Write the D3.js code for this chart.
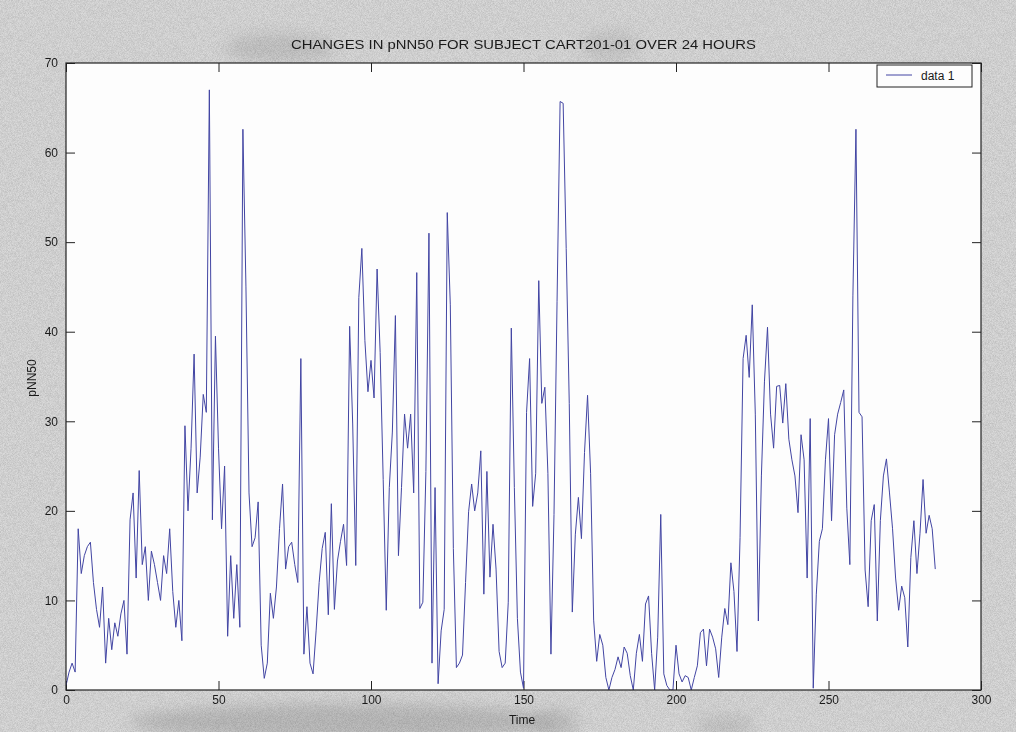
<!DOCTYPE html>
<html>
<head>
<meta charset="utf-8">
<script src="https://cdn.jsdelivr.net/npm/d3@7"></script>
<style>
  html, body { margin: 0; padding: 0; background: #d5d5d5; }
  svg { display: block; }
  text { font-family: "Liberation Sans Narrow", "Liberation Sans", Arial, sans-serif; fill: #1a1a1a; }
</style>
</head>
<body>
<div id="chart"></div>
<script>
// pNN50 samples, one per time step (0..285)
const pnn50 = [
  0.5, 2, 3, 2, 18, 13, 15, 16, 16.5, 12,
  9, 7, 11.5, 3, 8, 4.5, 7.5, 6, 8.5, 10,
  4, 19, 22, 12.5, 24.5, 14, 16, 10, 15.5, 14,
  12, 10, 15, 13, 18, 11, 7, 10, 5.5, 29.5,
  20, 27, 37.5, 22, 26, 33, 31, 67, 19, 39.5,
  27, 18, 25, 6, 15, 8, 14, 7, 62.6, 45,
  22, 16, 17, 21, 5, 1.3, 3, 10.8, 8, 11.5,
  18, 23, 13.5, 16, 16.5, 14, 12, 37, 4, 9.3,
  3, 1.8, 6.6, 12, 15.8, 17.6, 8.4, 20.8, 9, 14.4,
  16.6, 18.5, 13.9, 40.6, 29.7, 13.9, 43.8, 49.3, 39, 33.3,
  36.8, 32.6, 47, 37.7, 23.5, 8.9, 22.6, 28.8, 41.8, 15,
  22.6, 30.8, 27, 30.8, 22, 46.6, 9.1, 9.8, 24.4, 51,
  3, 22.6, 0.7, 6.6, 9, 53.3, 43, 15.8, 2.5, 3,
  3.9, 12, 19.9, 23, 20, 22, 26.7, 10.7, 24.4, 12.6,
  18.5, 13.5, 4.3, 2.5, 3, 9.8, 40.4, 22.6, 8, 2,
  0.2, 31, 37, 20.5, 24.2, 45.7, 32, 33.8, 24.2, 4,
  19.6, 43.4, 65.7, 65.5, 49.3, 32, 8.7, 17.4, 21.5, 16.9,
  26.5, 32.9, 24.2, 7.8, 3.2, 6.2, 5, 1.4, 0, 1.4,
  2.3, 3.7, 2.5, 4.8, 4.1, 1.6, 0, 4.1, 6.2, 3.2,
  9.6, 10.5, 4.1, 0, 5.9, 19.6, 1.8, 0.5, 0, 0,
  5, 1.8, 0.9, 1.6, 1.4, 0, 1.4, 2.7, 6.4, 6.8,
  2.7, 6.8, 5.9, 4.6, 1.4, 5.9, 9.1, 7.3, 14.2, 11,
  4.3, 17, 37, 39.6, 34.9, 43, 30.8, 7.7, 23.9, 34.4,
  40.5, 30.8, 27, 33.9, 34, 29.8, 34.2, 28, 25.7, 23.9,
  19.8, 28.5, 25.7, 12.5, 30.3, 0.2, 10.7, 16.6, 18, 25.7,
  30.3, 18.9, 28.5, 30.8, 32.1, 33.5, 20.3, 14, 44, 62.6,
  31, 30.5, 13.4, 9.3, 18.9, 20.7, 7.7, 18.9, 23.9, 25.8,
  22, 18, 12.5, 8.9, 11.6, 10.3, 4.8, 14.8, 18.9, 13,
  17.5, 23.5, 17.5, 19.5, 18, 13.5
];

const xTicks = [0, 50, 100, 150, 200, 250, 300];
const yTicks = [0, 10, 20, 30, 40, 50, 60, 70];
const titleText = "CHANGES IN pNN50 FOR SUBJECT CART201-01 OVER 24 HOURS";
const xLabel = "Time";
const yLabel = "pNN50";
const seriesName = "data 1";

const width = 1016;
const height = 732;
const plot = { left: 66, right: 981, top: 63, bottom: 690 };
const lineColor = "#4245a3";

const svg = d3.select("#chart").append("svg")
    .attr("width", width)
    .attr("height", height);

// scanned paper look
const defs = svg.append("defs");
const grain = defs.append("filter").attr("id", "grain")
    .attr("x", 0).attr("y", 0).attr("width", "100%").attr("height", "100%");
grain.append("feTurbulence")
    .attr("type", "fractalNoise")
    .attr("baseFrequency", 1.4)
    .attr("numOctaves", 1)
    .attr("seed", 4);
grain.append("feColorMatrix")
    .attr("type", "matrix")
    .attr("values", "0 0 0 0 0  0 0 0 0 0  0 0 0 0 0  0 0 0 -1.6 1.1");
defs.append("filter").attr("id", "blur")
    .append("feGaussianBlur").attr("stdDeviation", 7);
defs.append("clipPath").attr("id", "plot-clip")
  .append("rect")
    .attr("x", plot.left)
    .attr("y", plot.top - 1)
    .attr("width", plot.right - plot.left)
    .attr("height", plot.bottom - plot.top + 1);

svg.append("rect")
    .attr("width", width)
    .attr("height", height)
    .attr("fill", "#d9d9d9");

const smudges = [
    { cx: 345, cy: 722, rx: 215, ry: 18, o: 0.5 },
    { cx: 555, cy: 724, rx: 25, ry: 16, o: 0.35 },
    { cx: 725, cy: 726, rx: 30, ry: 12, o: 0.3 },
    { cx: 280, cy: 48, rx: 55, ry: 14, o: 0.35 },
    { cx: 610, cy: 46, rx: 30, ry: 16, o: 0.25 }
];
svg.append("g")
    .attr("filter", "url(#blur)")
  .selectAll("ellipse")
  .data(smudges)
  .join("ellipse")
    .attr("cx", d => d.cx)
    .attr("cy", d => d.cy)
    .attr("rx", d => d.rx)
    .attr("ry", d => d.ry)
    .attr("fill", "#a0a0a0")
    .attr("opacity", d => d.o);

svg.append("rect")
    .attr("width", width)
    .attr("height", height)
    .attr("filter", "url(#grain)")
    .attr("opacity", 0.16);

// axes area
svg.append("rect")
    .attr("x", plot.left)
    .attr("y", plot.top)
    .attr("width", plot.right - plot.left)
    .attr("height", plot.bottom - plot.top)
    .attr("fill", "#fdfdfd");

const x = d3.scaleLinear().domain([0, 300]).range([plot.left, plot.right]);
const y = d3.scaleLinear().domain([0, 70]).range([plot.bottom, plot.top]);

function styleAxis(g) {
    g.select(".domain").remove();
    g.selectAll(".tick line").attr("stroke", "#222").attr("stroke-width", 1);
    g.selectAll(".tick text")
        .attr("font-size", 12)
        .style("font-family", "\"Liberation Sans Narrow\", \"Liberation Sans\", Arial, sans-serif")
        .attr("fill", "#111");
}

svg.append("g")
    .attr("transform", `translate(0,${plot.bottom})`)
    .call(d3.axisBottom(x).tickValues(xTicks).tickSize(-9).tickPadding(5))
    .call(styleAxis);

svg.append("g")
    .attr("transform", `translate(0,${plot.top})`)
    .call(d3.axisTop(x).tickValues(xTicks).tickSize(-9).tickFormat(""))
    .call(styleAxis);

svg.append("g")
    .attr("transform", `translate(${plot.left},0)`)
    .call(d3.axisLeft(y).tickValues(yTicks).tickSize(-9).tickPadding(8))
    .call(styleAxis);

svg.append("g")
    .attr("transform", `translate(${plot.right},0)`)
    .call(d3.axisRight(y).tickValues(yTicks).tickSize(-9).tickFormat(""))
    .call(styleAxis);

const line = d3.line()
    .x((d, i) => x(i))
    .y(d => y(d));

svg.append("path")
    .datum(pnn50)
    .attr("clip-path", "url(#plot-clip)")
    .attr("fill", "none")
    .attr("stroke", lineColor)
    .attr("stroke-width", 1)
    .attr("d", line);

svg.append("rect")
    .attr("x", plot.left)
    .attr("y", plot.top)
    .attr("width", plot.right - plot.left)
    .attr("height", plot.bottom - plot.top)
    .attr("fill", "none")
    .attr("stroke", "#222")
    .attr("stroke-width", 1.2);

// legend
const legend = svg.append("g").attr("transform", "translate(877,65)");
legend.append("rect")
    .attr("width", 95)
    .attr("height", 22)
    .attr("fill", "#fdfdfd")
    .attr("stroke", "#222")
    .attr("stroke-width", 1);
legend.append("line")
    .attr("x1", 9).attr("x2", 35)
    .attr("y1", 10).attr("y2", 10)
    .attr("stroke", lineColor)
    .attr("stroke-width", 1);
legend.append("text")
    .attr("x", 44)
    .attr("y", 15)
    .attr("font-size", 12)
    .text(seriesName);

// labels
svg.append("text")
    .attr("x", (plot.left + plot.right) / 2)
    .attr("y", 49)
    .attr("text-anchor", "middle")
    .attr("font-size", 13)
    .attr("textLength", 465)
    .attr("lengthAdjust", "spacingAndGlyphs")
    .text(titleText);

svg.append("text")
    .attr("x", 522)
    .attr("y", 724)
    .attr("text-anchor", "middle")
    .attr("font-size", 12)
    .text(xLabel);

svg.append("text")
    .attr("transform", "translate(36,378) rotate(-90)")
    .attr("text-anchor", "middle")
    .attr("font-size", 12)
    .text(yLabel);
</script>
</body>
</html>
